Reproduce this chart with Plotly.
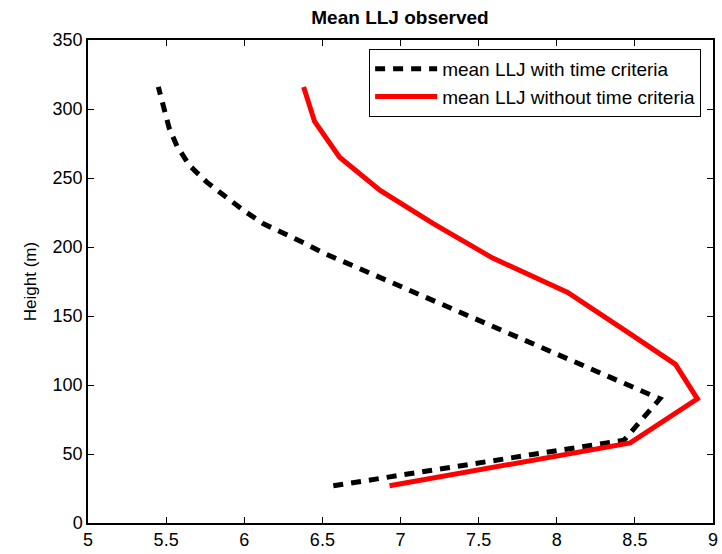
import plotly.graph_objects as go

red_heights = [27, 58, 90, 115, 137, 167, 192, 217, 241, 265, 291, 316]
red_speed = [6.93, 8.47, 8.90, 8.76, 8.47, 8.07, 7.59, 7.21, 6.87, 6.61, 6.45, 6.38]

black_heights = [27, 60, 90, 189, 196, 203, 210, 217, 227, 237, 247, 259, 273, 286, 300, 316]
black_speed = [6.57, 8.43, 8.66, 6.66, 6.50, 6.38, 6.25, 6.12, 5.99, 5.88, 5.76, 5.65, 5.57, 5.52, 5.49, 5.45]

names = ["mean LLJ with time criteria", "mean LLJ without time criteria"]
x_ticks = [5, 5.5, 6, 6.5, 7, 7.5, 8, 8.5, 9]
y_ticks = [0, 50, 100, 150, 200, 250, 300, 350]

font = "Liberation Sans, Arial, sans-serif"

fig = go.Figure()
fig.add_trace(go.Scatter(x=black_speed, y=black_heights, mode="lines", name=names[0],
                         line=dict(color="black", width=5, dash="10px,8px")))
fig.add_trace(go.Scatter(x=red_speed, y=red_heights, mode="lines", name=names[1],
                         line=dict(color="#ff0000", width=5)))

axis_common = dict(showline=True, linecolor="black", linewidth=1.5, mirror="ticks",
                   ticks="inside", ticklen=6, tickcolor="black", showgrid=False,
                   zeroline=False, automargin=False,
                   tickfont=dict(family=font, size=18, color="black"))

fig.update_layout(
    width=722, height=554,
    margin=dict(l=88, r=9, t=40, b=31),
    paper_bgcolor="white", plot_bgcolor="white",
    title=dict(text="<b>Mean LLJ observed</b>", x=0.554, xanchor="center", y=0.969, yanchor="middle",
               font=dict(family=font, size=19, color="black")),
    xaxis=dict(range=[5, 9], tickvals=x_ticks, ticktext=[str(v) for v in x_ticks],
               ticklabelstandoff=0, **axis_common),
    yaxis=dict(range=[0, 350], tickvals=y_ticks, ticktext=[str(v) for v in y_ticks],
               title=dict(text="Height (m)", font=dict(family=font, size=17, color="black"), standoff=12),
               **axis_common),
    legend=dict(x=0.981, y=0.9816, xanchor="right", yanchor="top", bgcolor="white",
                bordercolor="black", borderwidth=1, font=dict(family=font, size=19, color="black"),
                itemwidth=62, tracegroupgap=0),
    showlegend=True,
)

fig.write_html("out.html")
